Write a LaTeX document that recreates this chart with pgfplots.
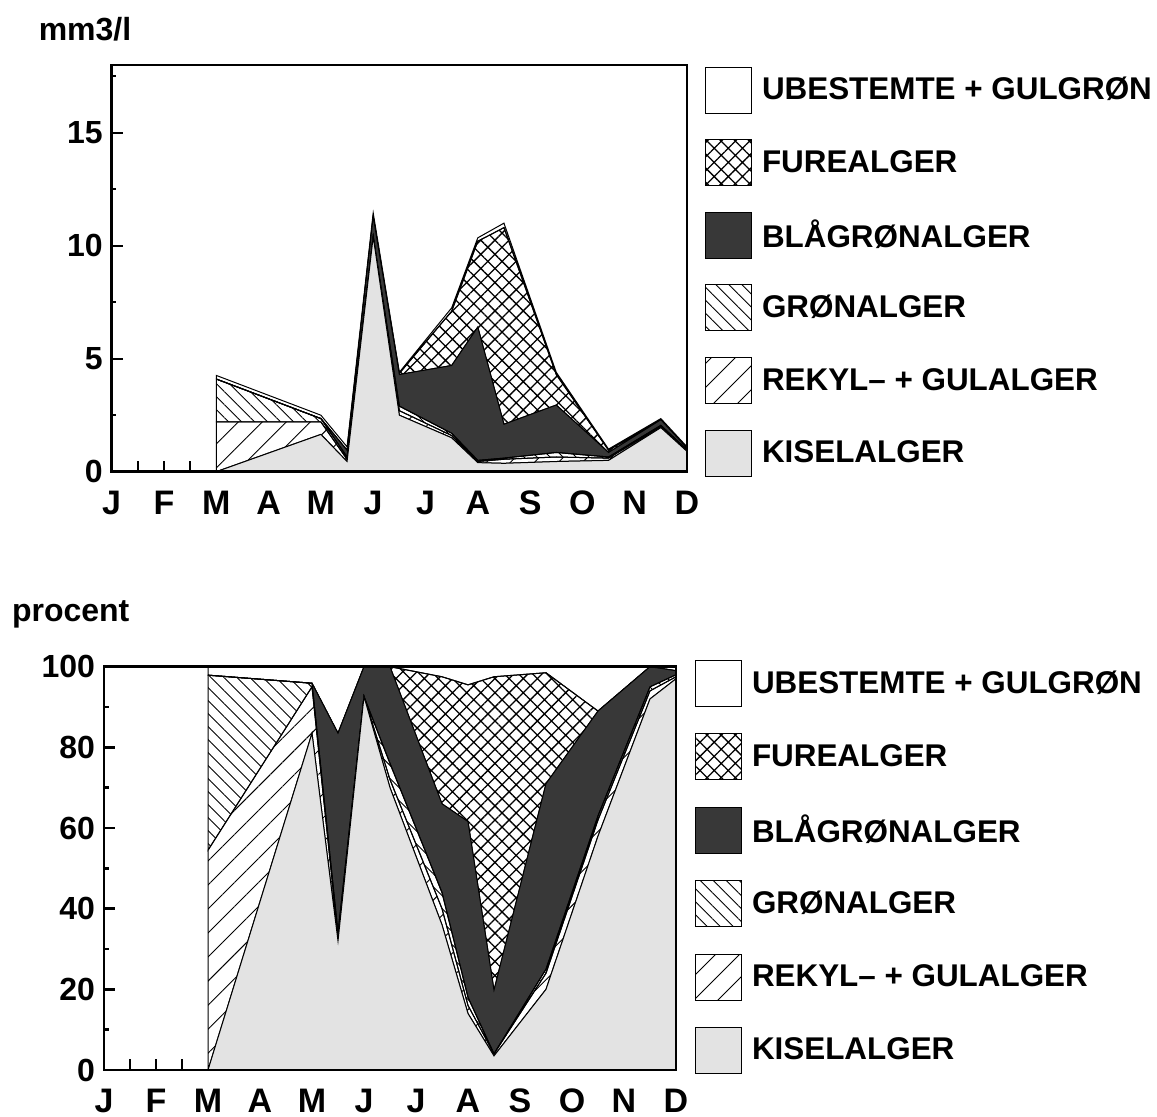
\documentclass[border=0pt]{standalone}
\usepackage{pgfplots}
\pgfplotsset{compat=1.18}
\usepackage{pgfplotstable}
\usetikzlibrary{patterns.meta}
\usepackage{fontspec}
\setmainfont{Liberation Sans}

% top chart: mm3/l, increments per group (stacked bottom to top)
\pgfplotstableread{
x    kisel rekyl gron bla  fure ub
2    0     2.2   1.9  0    0    0.16
4    1.65  0.55  0.15 0    0    0.15
4.5  0.45  0.1   0.1  0.3  0    0.15
5    10.4  0     0    0.9  0    0.15
5.5  2.5   0.2   0.2  1.4  0.05 0.05
6.5  1.5   0.1   0.1  3.0  2.4  0.15
7    0.4   0.05  0.05 5.9  3.8  0.15
7.5  0.37  0.18  0.05 1.5  8.7  0.2
8.5  0.45  0.2   0.2  2.1  1.35 0.1
9.5  0.5   0.1   0.05 0.2  0.1  0.05
10.5 1.95  0.05  0.05 0.25 0    0.05
11   0.9   0.05  0.02 0.08 0    0.05
}\tabA

% bottom chart: procent
\pgfplotstableread{
x    kisel rekyl gron bla  fure ub
2    0     54.5  43.4 0    0    2.1
4    83.5  11.5  0.9  0    0    4.1
4.5  32    1     1    49.5 0    16.5
5    92.6  0     0    7.4  0    0
5.5  70    2     4    24   0    0
6.5  36    4     4    22   31.5 2.5
7    14    2     2    43.6 33.9 4.5
7.5  3.5   0.5   0    15.8 77.7 2.5
8.5  20    4     1    46   27.5 1.5
9.5  58    4     1    26   0    11
10.5 92    2     1    5    0    0
11   97    0.5   0.5  1    0    1
}\tabB

\tikzset{
  kiselS/.style={draw=black, line width=0.5pt, fill=black!11},
  rekylS/.style={draw=black, line width=0.5pt, pattern={Lines[angle=45,distance=8.5pt,line width=0.45pt]}},
  gronS/.style={draw=black, line width=0.5pt, pattern={Lines[angle=-45,distance=4.6pt,line width=0.45pt]}},
  blaS/.style={draw=black, line width=0.5pt, fill=black!78},
  fureS/.style={draw=black, line width=0.5pt, pattern={Hatch[angle=45,distance=5pt,line width=0.65pt]}},
  ubS/.style={draw=black, line width=0.5pt, fill=white},
}

\pgfplotsset{
  chartstyle/.style={
    scale only axis,
    anchor=south west,
    axis on top,
    xmin=0, xmax=11, ymin=0,
    stack plots=y,
    axis line style={line width=1.4pt},
    tick align=inside,
    xtick pos=bottom, ytick pos=left,
    major tick length=5.5pt, minor tick length=2.3pt,
    every tick/.style={black, line width=1.2pt},
    xtick={0.5,1,1.5}, xticklabels={},
    extra x ticks={0,1,2,3,4,5,6,7,8,9,10,11},
    extra x tick labels={J,F,M,A,M,J,J,A,S,O,N,D},
    extra x tick style={tick style={draw=none}},
    xticklabel style={font=\bfseries\fontsize{17}{17}\selectfont,
      anchor=north, inner sep=0pt, text height=12.2pt, text depth=0pt, yshift=-9pt},
    yticklabel style={font=\bfseries\fontsize{16}{16}\selectfont, xshift=-1pt},
    /pgf/number format/assume math mode=true,
    legend cell align=left,
    reverse legend,
    legend image code/.code={\draw[##1] (0pt,-11.5pt) rectangle (23pt,11.5pt);},
    legend style={anchor=north west, draw=none, fill=none,
      font=\bfseries\fontsize{15.7}{16}\selectfont,
      inner sep=0pt, outer sep=0pt, nodes={inner sep=0pt},
      column sep=5pt},
  },
}

\begin{document}
\begin{tikzpicture}
\path[use as bounding box] (0,0) rectangle (578.5pt,558.5pt);

\begin{axis}[chartstyle,
  at={(55.85pt,322.65pt)}, width=287.65pt, height=203.35pt,
  ymax=18, ytick={0,5,10,15}, minor ytick={2.5,7.5,12.5,17.5},
  legend style={at={(rel axis cs:1,1)}, xshift=9pt, yshift=-0.85pt, row sep=12.8pt},
]
\addplot[kiselS] table[x=x,y=kisel]{\tabA} \closedcycle; \addlegendentry{KISELALGER}
\addplot[rekylS] table[x=x,y=rekyl]{\tabA} \closedcycle; \addlegendentry{REKYL-- + GULALGER}
\addplot[gronS]  table[x=x,y=gron]{\tabA} \closedcycle;  \addlegendentry{GRØNALGER}
\addplot[blaS]   table[x=x,y=bla]{\tabA} \closedcycle;   \addlegendentry{BLÅGRØNALGER}
\addplot[fureS]  table[x=x,y=fure]{\tabA} \closedcycle;  \addlegendentry{FUREALGER}
\addplot[ubS]    table[x=x,y=ub]{\tabA} \closedcycle;    \addlegendentry{UBESTEMTE + GULGRØN}
\end{axis}

\begin{axis}[chartstyle,
  at={(52pt,23.5pt)}, width=286pt, height=201.65pt,
  ymax=100, ytick={0,20,40,60,80,100}, minor ytick={10,30,50,70,90},
  legend style={at={(rel axis cs:1,1)}, xshift=9.5pt, yshift=3.35pt, row sep=13.2pt},
]
\addplot[kiselS] table[x=x,y=kisel]{\tabB} \closedcycle; \addlegendentry{KISELALGER}
\addplot[rekylS] table[x=x,y=rekyl]{\tabB} \closedcycle; \addlegendentry{REKYL-- + GULALGER}
\addplot[gronS]  table[x=x,y=gron]{\tabB} \closedcycle;  \addlegendentry{GRØNALGER}
\addplot[blaS]   table[x=x,y=bla]{\tabB} \closedcycle;   \addlegendentry{BLÅGRØNALGER}
\addplot[fureS]  table[x=x,y=fure]{\tabB} \closedcycle;  \addlegendentry{FUREALGER}
\addplot[ubS]    table[x=x,y=ub]{\tabB} \closedcycle;    \addlegendentry{UBESTEMTE + GULGRØN}
\end{axis}

\node[anchor=base west, inner sep=0pt, font=\bfseries\fontsize{16}{16}\selectfont] at (19.2pt,538.15pt) {mm3/l};
\node[anchor=base west, inner sep=0pt, font=\bfseries\fontsize{16}{16}\selectfont] at (5.8pt,247.65pt) {procent};
\end{tikzpicture}
\end{document}
